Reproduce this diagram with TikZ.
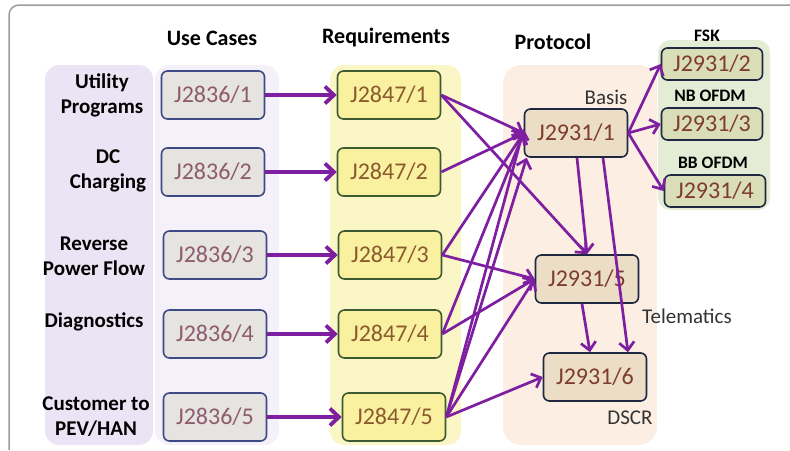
\documentclass[tikz,border=0pt]{standalone}
\usepackage{fontspec}
\setmainfont{Carlito}
\usetikzlibrary{arrows.meta,positioning}

\definecolor{framegray}{HTML}{9C9C9C}
\definecolor{lblcol}{HTML}{EBE4F5}
\definecolor{uccol}{HTML}{F4F1FA}
\definecolor{rqcol}{HTML}{FBF6C6}
\definecolor{prcol}{HTML}{FCEEE3}
\definecolor{phycol}{HTML}{E4ECD5}
\definecolor{ucfill}{HTML}{E6E4E1}
\definecolor{ucline}{HTML}{3D4A85}
\definecolor{uctext}{HTML}{8E5A6E}
\definecolor{rqfill}{HTML}{FAF1A0}
\definecolor{rqline}{HTML}{3E5A30}
\definecolor{rqtext}{HTML}{8A5A2E}
\definecolor{prfill}{HTML}{EBDDC6}
\definecolor{phyfill}{HTML}{D9DDB8}
\definecolor{prline}{HTML}{1E2840}
\definecolor{prtext}{HTML}{7E3D2C}
\definecolor{arrowcol}{HTML}{7E1FA2}

\begin{document}
\begin{tikzpicture}
	[x=1pt,y=-1pt,
	uc node/.style={shape=rectangle,rounded corners=6pt,draw=ucline,fill=ucfill,line width=1.6pt,minimum width=103pt,minimum height=48pt,text=uctext,font=\fontsize{24}{26}\selectfont},
	rq node/.style={uc node,draw=rqline,fill=rqfill,text=rqtext},
	pr node/.style={uc node,draw=prline,fill=prfill,text=prtext},
	phy node/.style={pr node,fill=phyfill,minimum width=101pt,minimum height=32pt},
	head/.style={font=\fontsize{22}{24}\selectfont\bfseries},
	side/.style={align=center,font=\fontsize{21}{25}\selectfont\bfseries},
	note/.style={font=\fontsize{21}{24}\selectfont,text=black!80},
	phy label/.style={font=\fontsize{17.5}{19}\selectfont\bfseries},
	link/.style={draw=arrowcol,line width=2.7pt,-{Straight Barb[length=8pt,width=15pt]}},
	thick link/.style={link,line width=3.8pt,-{Straight Barb[length=9pt,width=17pt]}}
	]
	\useasboundingbox (0,0) rectangle (790,450);
	
	% frame and columns
	\draw[framegray,line width=1.5pt,rounded corners=10pt] (9,450) -- (9,5) -- (800,5);
	\fill[lblcol,rounded corners=14pt] (45,65) rectangle (153,445);
	\fill[uccol,rounded corners=14pt] (155,65) rectangle (279,445);
	\fill[rqcol,rounded corners=14pt] (330,65) rectangle (461,445);
	\fill[prcol,rounded corners=18pt] (503,65) rectangle (657,445);
	\fill[phycol,rounded corners=12pt] (658,40) rectangle (770,210);
	
	\node [head] (h1) at (212,38) {Use Cases};
	\node [head] (h2) at (386,38) {Requirements};
	\node [head] (h3) at (553,42) {Protocol};
	
	\node [side] (s1) at (102,95) {Utility\\Programs};
	\node [side] (s2) at (108,171) {DC\\Charging};
	\node [side] (s3) at (94,256) {Reverse\\Power Flow};
	\node [side] (s4) at (94,322) {Diagnostics};
	\node [side] (s5) at (96,417) {Customer to\\PEV/HAN};
	
	\node [uc node] (u1) at (213,95) {J2836/1};
	\node [uc node] (u2) at (213,172) {J2836/2};
	\node [uc node] (u3) at (215,255) {J2836/3};
	\node [uc node] (u4) at (215,334) {J2836/4};
	\node [uc node] (u5) at (215,417) {J2836/5};
	
	\node [rq node] (r1) at (389,95) {J2847/1};
	\node [rq node] (r2) at (389,172) {J2847/2};
	\node [rq node] (r3) at (390,255) {J2847/3};
	\node [rq node] (r4) at (390,334) {J2847/4};
	\node [rq node] (r5) at (394,417) {J2847/5};
	
	\node [pr node] (p1) at (576,133) {J2931/1};
	\node [pr node] (p5) at (587,279) {J2931/5};
	\node [pr node] (p6) at (595,377) {J2931/6};
	
	\node [phy node] (p2) at (712,64) {J2931/2};
	\node [phy node] (p3) at (712,124) {J2931/3};
	\node [phy node] (p4) at (715,191) {J2931/4};
	
	\node [note] (basis) at (606,97) {Basis};
	\node [note] (tele) at (687,316) {Telematics};
	\node [note] (dscr) at (630,418) {DSCR};
	\node [phy label] (fsk) at (707,36) {FSK};
	\node [phy label] (nb) at (710,96) {NB OFDM};
	\node [phy label] (bb) at (713,163) {BB OFDM};
	
	\path[]
	(u1) edge[thick link] (r1)
	(u2) edge[thick link] (r2)
	(u3) edge[thick link] (r3)
	(u4) edge[thick link] (r4)
	(u5) edge[thick link] (r5)
	;
	
	\path[]
	(r1.east) edge[link] (p1.west)
	(r1.east) edge[link] (p5.north)
	(r2.east) edge[link] (p1.west)
	(r3.east) edge[link] (p1.west)
	(r3.east) edge[link] (p5.west)
	(r4.east) edge[link] (p1.west)
	(r4.east) edge[link] (p5.west)
	(r5.east) edge[link] ([xshift=3pt]p1.south west)
	(r5.east) edge[link] ([yshift=4pt]p1.west)
	(r5.east) edge[link] (p5.west)
	(r5.east) edge[link] (p6.west)
	(p1.east) edge[link] (p2.west)
	(p1.east) edge[link] (p3.west)
	(p1.east) edge[link] (p4.west)
	([xshift=1pt]p1.south) edge[link] (p5.north)
	([xshift=27pt]p1.south) edge[link] ([xshift=33pt]p6.north)
	([xshift=-5pt]p5.south) edge[link] ([xshift=-5pt]p6.north)
	;
	
\end{tikzpicture}
\end{document}
